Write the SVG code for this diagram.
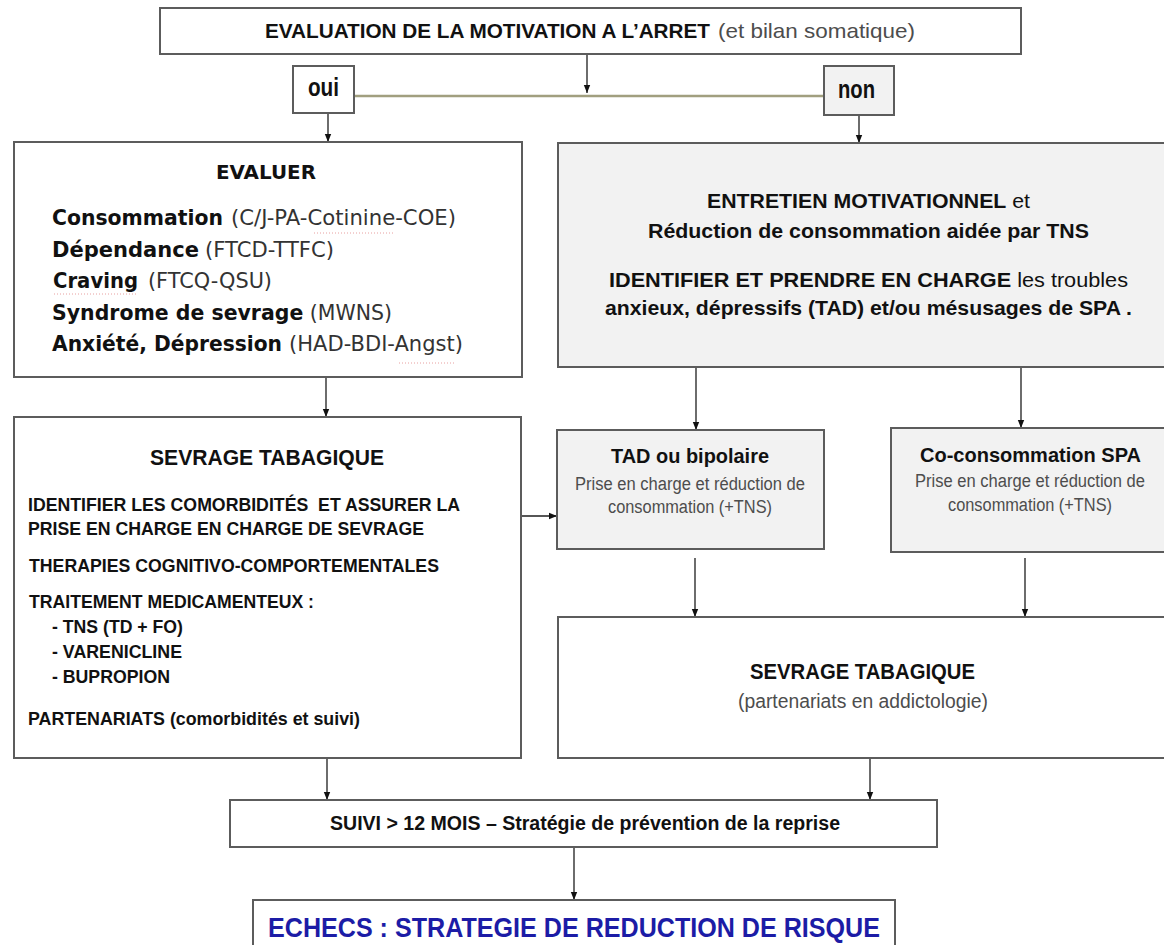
<svg xmlns="http://www.w3.org/2000/svg" width="1164" height="945" viewBox="0 0 1164 945">
  <defs>
    <style>
      .box{fill:#ffffff;stroke:#5c5c5c;stroke-width:2}
      .shade{fill:#f2f2f2}
      .ar{font-family:"Liberation Sans",Arial,sans-serif}
      .vd{font-family:"DejaVu Sans",Verdana,sans-serif}
      .b{font-weight:bold}
      .n{font-weight:normal}
      .k{fill:#111111}
      .g{fill:#4d4d4d}
      .d{fill:#333333}
      .blue{fill:#1c1ca6}
      .link{fill:none;stroke:#1e1e1e;stroke-width:1.3;marker-end:url(#head)}
      .split{fill:none;stroke:#a19f7f;stroke-width:2.5}
      .spell{fill:none;stroke:#e8a0a0;stroke-width:1;stroke-dasharray:1 2}
    </style>
    <marker id="head" viewBox="0 0 10 10" refX="10" refY="5" markerWidth="8" markerHeight="8" markerUnits="userSpaceOnUse" orient="auto">
      <path d="M0,1 L10,5 L0,9 Z" fill="#111111"/>
    </marker>
  </defs>

  <rect width="1164" height="945" fill="#ffffff"/>

  <!-- connectors -->
  <g id="connectors">
    <path class="split" d="M354,96 H824"/>
    <path class="link" d="M587,55 V93"/>
    <path class="link" d="M328,113 V142"/>
    <path class="link" d="M859,115 V143"/>
    <path class="link" d="M326,377 V417"/>
    <path class="link" d="M521,516 H557"/>
    <path class="link" d="M696,367 V430"/>
    <path class="link" d="M1021,367 V428"/>
    <path class="link" d="M695,558 V617"/>
    <path class="link" d="M1025,558 V617"/>
    <path class="link" d="M327,758 V800"/>
    <path class="link" d="M870,758 V800"/>
    <path class="link" d="M574,847 V900"/>
  </g>

  <!-- top: motivation assessment -->
  <g id="motivation">
    <rect class="box" x="160" y="8" width="861" height="46"/>
    <text class="ar b k" x="265" y="38" font-size="20" textLength="445" lengthAdjust="spacingAndGlyphs">EVALUATION DE LA MOTIVATION A L’ARRET</text>
    <text class="ar g" x="718" y="38" font-size="21" textLength="197" lengthAdjust="spacingAndGlyphs">(et bilan somatique)</text>
  </g>

  <g id="oui">
    <rect class="box" x="293" y="66" width="61" height="47"/>
    <text class="ar b k" x="308" y="96" font-size="25" textLength="31" lengthAdjust="spacingAndGlyphs">oui</text>
  </g>

  <g id="non">
    <rect class="box shade" x="824" y="66" width="70" height="49"/>
    <text class="ar b k" x="838" y="98" font-size="25" textLength="37" lengthAdjust="spacingAndGlyphs">non</text>
  </g>

  <!-- assessment scales -->
  <g id="evaluer">
    <rect class="box" x="14" y="142" width="508" height="235"/>
    <text class="vd b k" x="216" y="179" font-size="20" textLength="100" lengthAdjust="spacingAndGlyphs">EVALUER</text>
    <text class="vd b k" x="52" y="225" font-size="21.5" textLength="171" lengthAdjust="spacingAndGlyphs">Consommation</text>
    <text class="vd d" x="231" y="225" font-size="21.5" textLength="225" lengthAdjust="spacingAndGlyphs">(C/J-PA-Cotinine-COE)</text>
    <text class="vd b k" x="52" y="256.5" font-size="21.5" textLength="147" lengthAdjust="spacingAndGlyphs">Dépendance</text>
    <text class="vd d" x="205" y="256.5" font-size="21.5" textLength="129" lengthAdjust="spacingAndGlyphs">(FTCD-TTFC)</text>
    <text class="vd b k" x="53" y="288" font-size="21.5" textLength="85" lengthAdjust="spacingAndGlyphs">Craving</text>
    <text class="vd d" x="148" y="288" font-size="21.5" textLength="124" lengthAdjust="spacingAndGlyphs">(FTCQ-QSU)</text>
    <text class="vd b k" x="52" y="319.5" font-size="20.5" textLength="340" lengthAdjust="spacingAndGlyphs">Syndrome de sevrage<tspan class="n d"> (MWNS)</tspan></text>
    <text class="vd b k" x="52" y="351" font-size="21.5" textLength="230" lengthAdjust="spacingAndGlyphs">Anxiété, Dépression</text>
    <text class="vd d" x="289" y="351" font-size="21.5" textLength="174" lengthAdjust="spacingAndGlyphs">(HAD-BDI-Angst)</text>
    <path class="spell" d="M314,233 H395 M54,294 H137 M399,363 H456"/>
  </g>

  <!-- motivational interviewing -->
  <g id="entretien">
    <rect class="box shade" x="558" y="143" width="620" height="224"/>
    <text class="ar b k" x="707" y="208" font-size="21" textLength="323" lengthAdjust="spacingAndGlyphs">ENTRETIEN MOTIVATIONNEL<tspan class="n"> et</tspan></text>
    <text class="ar b k" x="648" y="238" font-size="21" textLength="441" lengthAdjust="spacingAndGlyphs">Réduction de consommation aidée par TNS</text>
    <text class="ar b k" x="609" y="287" font-size="21" textLength="519" lengthAdjust="spacingAndGlyphs">IDENTIFIER ET PRENDRE EN CHARGE<tspan class="n"> les troubles</tspan></text>
    <text class="ar b k" x="605" y="315" font-size="21" textLength="527" lengthAdjust="spacingAndGlyphs">anxieux, dépressifs (TAD) et/ou mésusages de SPA .</text>
  </g>

  <!-- smoking cessation, left branch -->
  <g id="sevrage-gauche">
    <rect class="box" x="14" y="417" width="507" height="341"/>
    <text class="ar b k" x="150" y="465" font-size="22" textLength="234" lengthAdjust="spacingAndGlyphs">SEVRAGE TABAGIQUE</text>
    <text class="ar b k" x="28" y="511" font-size="18.5" textLength="432" lengthAdjust="spacingAndGlyphs">IDENTIFIER LES COMORBIDITÉS&#160; ET ASSURER LA</text>
    <text class="ar b k" x="28" y="535" font-size="18.5" textLength="396" lengthAdjust="spacingAndGlyphs">PRISE EN CHARGE EN CHARGE DE SEVRAGE</text>
    <text class="ar b k" x="29" y="572" font-size="18.5" textLength="410" lengthAdjust="spacingAndGlyphs">THERAPIES COGNITIVO-COMPORTEMENTALES</text>
    <text class="ar b k" x="29" y="608" font-size="18.5" textLength="285" lengthAdjust="spacingAndGlyphs">TRAITEMENT MEDICAMENTEUX :</text>
    <text class="ar b k" x="52" y="633" font-size="18.5" textLength="131" lengthAdjust="spacingAndGlyphs">- TNS (TD + FO)</text>
    <text class="ar b k" x="52" y="658" font-size="18.5" textLength="130" lengthAdjust="spacingAndGlyphs">- VARENICLINE</text>
    <text class="ar b k" x="52" y="683" font-size="18.5" textLength="118" lengthAdjust="spacingAndGlyphs">- BUPROPION</text>
    <text class="ar b k" x="28" y="725" font-size="18.5" textLength="332" lengthAdjust="spacingAndGlyphs">PARTENARIATS (comorbidités et suivi)</text>
  </g>

  <g id="tad">
    <rect class="box shade" x="557" y="430" width="267" height="119"/>
    <text class="ar b k" x="611" y="463" font-size="21" textLength="158" lengthAdjust="spacingAndGlyphs">TAD ou bipolaire</text>
    <text class="ar g" x="575" y="490" font-size="18" textLength="230" lengthAdjust="spacingAndGlyphs">Prise en charge et réduction de</text>
    <text class="ar g" x="608" y="513" font-size="18" textLength="164" lengthAdjust="spacingAndGlyphs">consommation (+TNS)</text>
  </g>

  <g id="co-consommation">
    <rect class="box shade" x="891" y="428" width="290" height="124"/>
    <text class="ar b k" x="920" y="462" font-size="21" textLength="221" lengthAdjust="spacingAndGlyphs">Co-consommation SPA</text>
    <text class="ar g" x="915" y="487" font-size="18" textLength="230" lengthAdjust="spacingAndGlyphs">Prise en charge et réduction de</text>
    <text class="ar g" x="948" y="511" font-size="18" textLength="164" lengthAdjust="spacingAndGlyphs">consommation (+TNS)</text>
  </g>

  <!-- smoking cessation, right branch -->
  <g id="sevrage-droite">
    <rect class="box" x="558" y="617" width="620" height="141"/>
    <text class="ar b k" x="750" y="679" font-size="22" textLength="225" lengthAdjust="spacingAndGlyphs">SEVRAGE TABAGIQUE</text>
    <text class="ar g" x="738" y="708" font-size="20" textLength="250" lengthAdjust="spacingAndGlyphs">(partenariats en addictologie)</text>
  </g>

  <g id="suivi">
    <rect class="box" x="230" y="800" width="707" height="47"/>
    <text class="ar b k" x="330" y="830" font-size="20" textLength="510" lengthAdjust="spacingAndGlyphs">SUIVI &gt; 12 MOIS – Stratégie de prévention de la reprise</text>
  </g>

  <g id="echecs">
    <rect class="box" x="253" y="900" width="642" height="60"/>
    <text class="ar b blue" x="268" y="937" font-size="27" textLength="612" lengthAdjust="spacingAndGlyphs">ECHECS : STRATEGIE DE REDUCTION DE RISQUE</text>
  </g>
</svg>
